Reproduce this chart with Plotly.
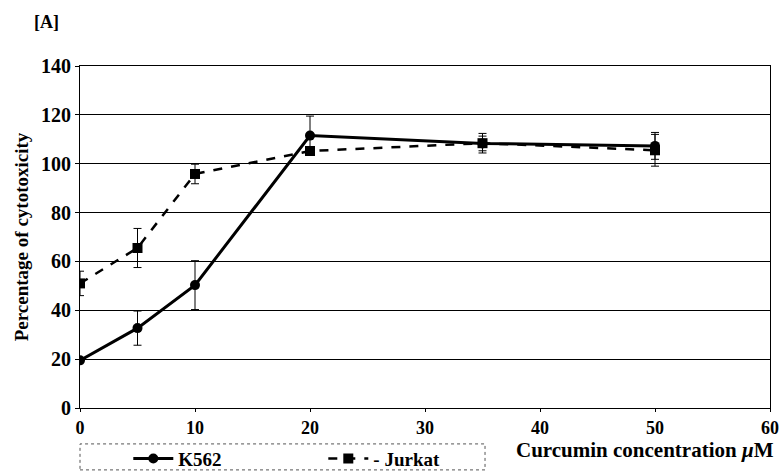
import plotly.graph_objects as go

conc = [0, 5, 10, 20, 35, 50]
k562 = [19.5, 32.7, 50.3, 111.5, 108.3, 107.3]
k562_err = [0, 7, 10, 8, 3, 5.5]
jurkat = [51, 65.5, 95.8, 105.2, 108.4, 105.5]
jurkat_err = [5, 8, 4, 1.5, 4, 6.5]
x_ticks = [0, 10, 20, 30, 40, 50, 60]
y_ticks = [0, 20, 40, 60, 80, 100, 120, 140]

FONT = "Liberation Serif"

fig = go.Figure()
fig.add_trace(go.Scatter(
    x=conc, y=k562, name="<b>K562</b>", mode="lines+markers",
    line=dict(color="black", width=3),
    marker=dict(symbol="circle", size=10, color="black"),
    error_y=dict(type="data", array=k562_err, color="black", thickness=1, width=4),
))
fig.add_trace(go.Scatter(
    x=conc, y=jurkat, name="<b>- Jurkat</b>", mode="lines+markers",
    line=dict(color="black", width=2.5, dash="dash"),
    marker=dict(symbol="square", size=10, color="black"),
    error_y=dict(type="data", array=jurkat_err, color="black", thickness=1, width=4),
))

fig.update_layout(
    width=782, height=472,
    margin=dict(l=80, r=12, t=66, b=64, autoexpand=False),
    paper_bgcolor="white", plot_bgcolor="white",
    font=dict(family=FONT, color="black", size=16),
    showlegend=True,
    legend=dict(
        orientation="h", x=0.07, xanchor="left", y=-0.148, yanchor="middle",
        font=dict(family=FONT, size=19),
        entrywidth=140, entrywidthmode="pixels", itemwidth=40,
        bgcolor="rgba(0,0,0,0)",
    ),
    xaxis=dict(
        range=[0, 60], tickvals=x_ticks,
        ticktext=["<b>%d</b>" % v for v in x_ticks],
        showgrid=False, zeroline=False,
        showline=True, linecolor="black", linewidth=1, mirror=True,
        ticks="outside", ticklen=3, tickcolor="black",
        tickfont=dict(family=FONT, size=18),
    ),
    yaxis=dict(
        range=[0, 140], tickvals=y_ticks,
        ticktext=["<b>%d</b>" % v for v in y_ticks],
        showgrid=True, gridcolor="black", gridwidth=1, zeroline=False,
        showline=True, linecolor="black", linewidth=1, mirror=True,
        ticks="outside", ticklen=4, tickcolor="black",
        tickfont=dict(family=FONT, size=20),
        title=dict(text="<b>Percentage of cytotoxicity</b>", standoff=7,
                   font=dict(family=FONT, size=19)),
        automargin=False,
    ),
    shapes=[dict(type="rect", xref="paper", yref="paper",
                 x0=0.0, x1=0.587, y0=-0.181, y1=-0.105,
                 line=dict(color="#555", width=1, dash="dot"))],
    annotations=[
        dict(text="<b>[A]</b>", xref="paper", yref="paper", x=-0.048, y=1.129,
             xanchor="center", yanchor="middle", showarrow=False,
             font=dict(family=FONT, size=18)),
        dict(text="<b>Curcumin concentration <i>μ</i>M</b>", xref="paper", yref="paper",
             x=0.819, y=-0.123, xanchor="center", yanchor="middle", showarrow=False,
             font=dict(family=FONT, size=21)),
    ],
)

fig.write_html("out.html", config={"displayModeBar": False},
               post_script="document.body.style.margin='0';")
